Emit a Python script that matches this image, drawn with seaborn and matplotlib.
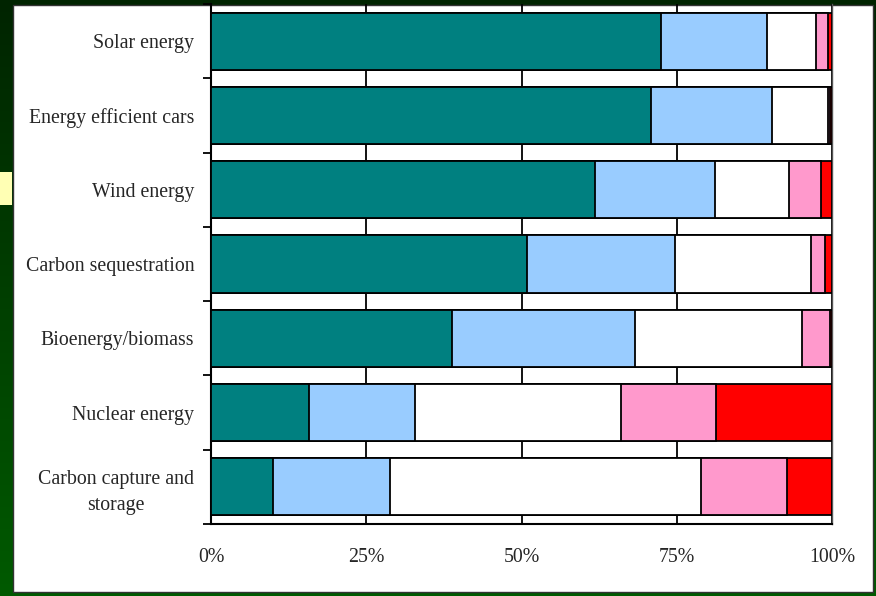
import matplotlib
matplotlib.use("Agg")
import matplotlib.pyplot as plt
import matplotlib.patches as mpatches
from matplotlib.colors import LinearSegmentedColormap
import numpy as np
import pandas as pd
import seaborn as sns

categories = [
    "Solar energy",
    "Energy efficient cars",
    "Wind energy",
    "Carbon sequestration",
    "Bioenergy/biomass",
    "Nuclear energy",
    "Carbon capture and\nstorage",
]
# share of responses per category (percent), one list per answer group
group_1 = [72.5, 70.8, 61.8, 50.9, 38.8, 15.8, 10.0]
group_2 = [17.1, 19.6, 19.4, 23.8, 29.5, 17.1, 18.8]
group_3 = [7.8, 9.0, 11.8, 21.9, 26.9, 33.1, 50.1]
group_4 = [1.9, 0.3, 5.3, 2.3, 4.5, 15.4, 13.8]
group_5 = [0.7, 0.3, 1.7, 1.1, 0.3, 18.6, 7.3]
x_ticks = [0, 25, 50, 75, 100]
x_tick_labels = ["0%", "25%", "50%", "75%", "100%"]

groups = [group_1, group_2, group_3, group_4, group_5]
colors = ["#008080", "#99CCFF", "#FFFFFF", "#FF99CC", "#FF0000"]

df = pd.DataFrame({"category": categories})
for i, g in enumerate(groups):
    df[f"g{i}"] = g
cum = df[[f"g{i}" for i in range(5)]].cumsum(axis=1)

sns.set_theme(style="white")
plt.rcParams["font.family"] = ["Liberation Serif", "DejaVu Serif"]

W, H = 876, 596
fig = plt.figure(figsize=(W / 100, H / 100), dpi=100)

# slide background: dark green gradient
bg = fig.add_axes([0, 0, 1, 1], zorder=-10)
grad = np.linspace(0, 1, 256).reshape(-1, 1)
cmap = LinearSegmentedColormap.from_list("g", ["#002400", "#005a00"])
bg.imshow(grad, aspect="auto", cmap=cmap, extent=[0, 1, 0, 1], origin="upper")
bg.set_axis_off()
bg.add_patch(mpatches.Rectangle((0, 1 - 205 / H), 12 / W, 33 / H,
                                transform=bg.transAxes, color="#FFFFB4", lw=0))
bg.add_patch(mpatches.Rectangle((13 / W, 4 / H), 860 / W, 587 / H,
                                transform=bg.transAxes, facecolor="white",
                                edgecolor="#333333", lw=1))

ax = fig.add_axes([211 / W, (H - 524) / H, 621 / W, 520 / H])
ax.set_facecolor("none")

# stacked bars: draw cumulative totals from the outermost segment inwards
for i in range(4, -1, -1):
    sns.barplot(
        x=cum[f"g{i}"],
        y=df["category"],
        orient="h",
        color=colors[i],
        saturation=1,
        width=0.77,
        edgecolor="black",
        linewidth=1.3,
        ax=ax,
        zorder=3,
    )

ax.set_xlim(0, 100)
ax.set_ylim(6.5, -0.5)
ax.set_xticks(x_ticks)
ax.set_xticklabels(x_tick_labels, fontsize=14.3)
ax.set_xlabel("")
ax.set_ylabel("")
ax.set_yticks(range(len(categories)))
ax.set_yticklabels(categories, fontsize=14.3, multialignment="center", linespacing=1.5)
ax.set_yticks(np.arange(-0.5, 7, 1), minor=True)
ax.tick_params(axis="y", which="major", length=0, pad=12)
ax.tick_params(axis="y", which="minor", length=6, width=1.3, color="black", left=True)
ax.tick_params(axis="x", length=0, pad=17)
ax.grid(axis="x", color="black", lw=1.3)
ax.grid(axis="y", visible=False)
ax.set_axisbelow(True)
for s in ["left", "bottom"]:
    ax.spines[s].set_color("black")
    ax.spines[s].set_linewidth(1.5)
ax.spines["top"].set_visible(False)
ax.spines["right"].set_color("#555555")
ax.spines["right"].set_linewidth(1)

fig.savefig("out.png", dpi=100)
